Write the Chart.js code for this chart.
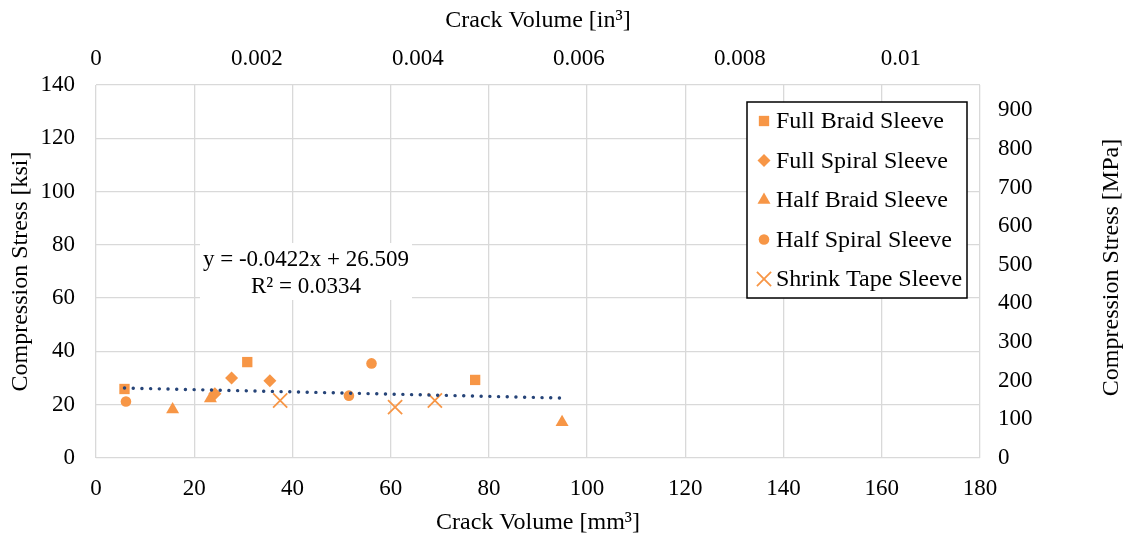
<!DOCTYPE html>
<html>
<head>
<meta charset="utf-8">
<script src="https://cdn.jsdelivr.net/npm/chart.js@4.4.0/dist/chart.umd.min.js"></script>
<style>
  html, body { margin: 0; padding: 0; background: #fff; }
  canvas { display: block; }
</style>
</head>
<body>
<canvas id="chart" width="1129" height="538"></canvas>
<script>
// crack volume [mm3] vs compression stress [ksi]
const fullBraidX = [5.8, 30.8, 77.2];
const fullBraidY = [25.9, 36.0, 29.3];
const fullSpiralX = [24.2, 27.6, 35.4];
const fullSpiralY = [24.1, 30.0, 29.0];
const halfBraidX = [15.6, 23.3, 94.9];
const halfBraidY = [18.2, 22.3, 13.4];
const halfSpiralX = [6.1, 51.5, 56.1];
const halfSpiralY = [21.2, 23.4, 35.5];
const shrinkTapeX = [37.5, 60.9, 69.0];
const shrinkTapeY = [21.6, 19.1, 21.6];

// linear trendline end points (y = -0.0422x + 26.509)
const trendX = [5.8, 94.9];
const trendY = [26.26, 22.50];

const equationLines = ['y = -0.0422x + 26.509', 'R\u00B2 = 0.0334'];
const rightTitle = 'Compression Stress [MPa]';

const MM3_PER_IN3 = 16387.064;
const MPA_PER_KSI = 6.894757;

const markerColor = '#F79646';
const trendColor = '#264478';
const gridColor = '#D9D9D9';
const fontFamily = "'Liberation Serif', 'Times New Roman', serif";
const font = { family: fontFamily, size: 23 };
const titleFont = { family: fontFamily, size: 24 };

function series(label, xs, ys, style, radius) {
    return {
        label: label,
        type: 'scatter',
        data: xs.map((x, i) => ({ x: x, y: ys[i] })),
        pointStyle: style,
        pointRadius: radius,
        pointHoverRadius: radius,
        backgroundColor: markerColor,
        borderColor: markerColor,
        borderWidth: style === 'crossRot' ? 1.8 : 0,
        order: 1
    };
}

const datasets = [
    series('Full Braid Sleeve', fullBraidX, fullBraidY, 'rect', 7.3),
    series('Full Spiral Sleeve', fullSpiralX, fullSpiralY, 'rectRot', 6.5),
    series('Half Braid Sleeve', halfBraidX, halfBraidY, 'triangle', 7.5),
    series('Half Spiral Sleeve', halfSpiralX, halfSpiralY, 'circle', 5.3),
    series('Shrink Tape Sleeve', shrinkTapeX, shrinkTapeY, 'crossRot', 10),
    {
        label: 'trend',
        type: 'line',
        data: trendX.map((x, i) => ({ x: x, y: trendY[i] })),
        borderColor: trendColor,
        borderWidth: 3.4,
        borderDash: [0.1, 8.6],
        borderCapStyle: 'round',
        pointRadius: 0,
        fill: false,
        order: 0
    }
];

// legend box drawn inside the plot area, like the Excel one
const boxLegend = {
    id: 'boxLegend',
    afterDraw(chart) {
        const ctx = chart.ctx;
        const left = 747, top = 102, w = 220, h = 196;
        ctx.save();
        ctx.fillStyle = '#fff';
        ctx.fillRect(left, top, w, h);
        ctx.strokeStyle = '#000';
        ctx.lineWidth = 1.5;
        ctx.strokeRect(left, top, w, h);
        ctx.font = titleFont.size + 'px ' + fontFamily;
        ctx.textBaseline = 'middle';
        chart.data.datasets.filter(d => d.order === 1).forEach((ds, i) => {
            const y = top + 19 + i * 39.5;
            ctx.fillStyle = markerColor;
            ctx.strokeStyle = markerColor;
            ctx.lineWidth = ds.borderWidth;
            Chart.helpers.drawPoint(ctx, {
                pointStyle: ds.pointStyle,
                radius: ds.pointRadius,
                borderWidth: ds.borderWidth,
                rotation: 0
            }, left + 17, y);
            ctx.fillStyle = '#000';
            ctx.fillText(ds.label, left + 29, y + 1);
        });
        ctx.restore();
    }
};

// trendline equation label with its white background
const equationLabel = {
    id: 'equationLabel',
    afterDatasetsDraw(chart) {
        const ctx = chart.ctx;
        const area = chart.chartArea;
        const left = area.left + 104, top = area.top + 158;
        ctx.save();
        ctx.fillStyle = '#fff';
        ctx.fillRect(left, top, 212, 57);
        ctx.fillStyle = '#000';
        ctx.font = font.size + 'px ' + fontFamily;
        ctx.textAlign = 'center';
        ctx.textBaseline = 'middle';
        ctx.fillText(equationLines[0], left + 106, top + 17);
        ctx.fillText(equationLines[1], left + 106, top + 44);
        ctx.restore();
    }
};

// right axis title reads bottom to top, same as the left one
const rightAxisTitle = {
    id: 'rightAxisTitle',
    afterDraw(chart) {
        const ctx = chart.ctx;
        const area = chart.chartArea;
        ctx.save();
        ctx.translate(1112, (area.top + area.bottom) / 2 - 4);
        ctx.rotate(-Math.PI / 2);
        ctx.fillStyle = '#000';
        ctx.font = titleFont.size + 'px ' + fontFamily;
        ctx.textAlign = 'center';
        ctx.textBaseline = 'middle';
        ctx.fillText(rightTitle, 0, 0);
        ctx.restore();
    }
};

function fixSize(prop, value) {
    return scale => { scale[prop] = value; };
}

const ctx = document.getElementById('chart').getContext('2d');
new Chart(ctx, {
    type: 'scatter',
    data: { datasets: datasets },
    options: {
        responsive: false,
        animation: false,
        devicePixelRatio: 1,
        layout: { padding: 0 },
        plugins: {
            legend: { display: false },
            tooltip: { enabled: false }
        },
        scales: {
            x: {
                type: 'linear',
                position: 'bottom',
                min: 0,
                max: 180,
                afterFit: fixSize('height', 80),
                ticks: { stepSize: 20, padding: 17, color: '#000', font: font },
                grid: { color: gridColor, lineWidth: 1.3, drawTicks: false, tickLength: 0 },
                border: { display: false },
                title: {
                    display: true,
                    text: 'Crack Volume [mm\u00B3]',
                    color: '#000',
                    font: titleFont,
                    padding: { top: 0, bottom: 1 }
                }
            },
            x2: {
                type: 'linear',
                position: 'top',
                min: 0,
                max: 180 / MM3_PER_IN3,
                afterFit: fixSize('height', 85),
                ticks: {
                    stepSize: 0.002,
                    includeBounds: false,
                    padding: 12,
                    color: '#000',
                    font: font,
                    callback: v => String(parseFloat(v.toFixed(3)))
                },
                grid: { display: false, drawTicks: false, tickLength: 0 },
                border: { display: false },
                title: {
                    display: true,
                    text: 'Crack Volume [in\u00B3]',
                    color: '#000',
                    font: titleFont,
                    padding: { top: 6, bottom: 0 }
                }
            },
            y: {
                type: 'linear',
                position: 'left',
                min: 0,
                max: 140,
                afterFit: fixSize('width', 96),
                ticks: { stepSize: 20, padding: 21, color: '#000', font: font },
                grid: { color: gridColor, lineWidth: 1.3, drawTicks: false, tickLength: 0 },
                border: { display: false },
                title: {
                    display: true,
                    text: 'Compression Stress [ksi]',
                    color: '#000',
                    font: titleFont,
                    padding: { top: 6, bottom: 0 }
                }
            },
            y2: {
                type: 'linear',
                position: 'right',
                min: 0,
                max: 140 * MPA_PER_KSI,
                afterFit: fixSize('width', 149),
                ticks: { stepSize: 100, includeBounds: false, padding: 18, color: '#000', font: font },
                grid: { display: false, drawTicks: false, tickLength: 0 },
                border: { display: false },
                title: { display: false }
            }
        }
    },
    plugins: [equationLabel, boxLegend, rightAxisTitle]
});
</script>
</body>
</html>
